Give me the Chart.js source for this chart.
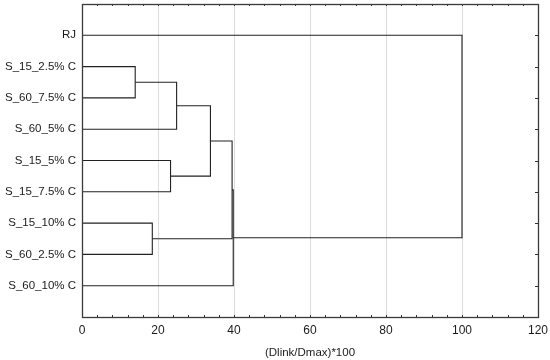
<!DOCTYPE html>
<html>
<head>
<meta charset="utf-8">
<script src="https://cdn.jsdelivr.net/npm/chart.js@4"></script>
<style>
html,body{margin:0;padding:0;background:#fff;}
#wrap{width:550px;height:360px;}
</style>
</head>
<body>
<div id="wrap"><canvas id="c" width="550" height="360"></canvas></div>
<script>
// Leaves (top to bottom)
const leafLabels = ['RJ','S_15_2.5% C','S_60_7.5% C','S_60_5% C','S_15_5% C','S_15_7.5% C','S_15_10% C','S_60_2.5% C','S_60_10% C'];
// Linkage: node ids 0..8 are leaves, 9+ are merged clusters in order
const mergeLeft   = [1, 9, 4, 10, 6, 12, 14, 0];
const mergeRight  = [2, 3, 5, 11, 7, 13, 8, 15];
const mergeHeight = [14.0, 24.9, 23.3, 33.8, 18.5, 39.5, 39.8, 100];
const xTicks = [0, 20, 40, 60, 80, 100, 120];
const xTitle = '(Dlink/Dmax)*100';

const nodeY = leafLabels.map((_, i) => i + 1);
const nodeH = leafLabels.map(() => 0);
const datasets = [];
mergeLeft.forEach((l, k) => {
  const r = mergeRight[k], h = mergeHeight[k];
  datasets.push({
    data: [{x: nodeH[l], y: nodeY[l]}, {x: h, y: nodeY[l]}, {x: h, y: nodeY[r]}, {x: nodeH[r], y: nodeY[r]}],
    showLine: true, borderColor: '#222', borderWidth: 1.1, pointRadius: 0, tension: 0, fill: false
  });
  nodeY.push((nodeY[l] + nodeY[r]) / 2);
  nodeH.push(h);
});

const FONT = 'Liberation Sans, Arial, sans-serif';

const decor = {
  id: 'decor',
  afterDraw(chart) {
    const ctx = chart.ctx, a = chart.chartArea, xs = chart.scales.x, ys = chart.scales.y;
    ctx.save();
    ctx.strokeStyle = '#333';
    ctx.lineWidth = 1;
    for (let v = 0; v <= 120; v += 4) {
      const px = Math.round(xs.getPixelForValue(v)) + 0.5;
      const len = 2;
      ctx.beginPath();
      ctx.moveTo(px, a.bottom); ctx.lineTo(px, a.bottom - len);
      ctx.moveTo(px, a.top); ctx.lineTo(px, a.top + len);
      ctx.stroke();
    }
    leafLabels.forEach((_, i) => {
      const py = Math.round(ys.getPixelForValue(i + 1)) + 0.5;
      ctx.beginPath();
      ctx.moveTo(a.right, py); ctx.lineTo(a.right - 3, py);
      ctx.stroke();
    });
    ctx.strokeStyle = '#3a3a3a';
    ctx.lineWidth = 1.3;
    ctx.strokeRect(Math.round(a.left) + 0.5, Math.round(a.top) + 0.5, Math.round(a.right - a.left), Math.round(a.bottom - a.top));
    ctx.restore();
  }
};

new Chart(document.getElementById('c'), {
  type: 'scatter',
  data: { datasets },
  plugins: [decor],
  options: {
    responsive: false,
    animation: false,
    devicePixelRatio: 1,
    layout: { padding: { top: 4, right: 12, left: 0, bottom: 0 } },
    plugins: { legend: { display: false }, tooltip: { enabled: false }, title: { display: false } },
    scales: {
      x: {
        type: 'linear', min: 0, max: 120,
        afterBuildTicks(s) { s.ticks = xTicks.map(v => ({value: v})); },
        afterFit(s) { s.height = 43; s.paddingLeft = 0; s.paddingRight = 0; },
        grid: {
          drawTicks: false,
          color: c => (c.tick && (c.tick.value === 0 || c.tick.value === 120)) ? 'rgba(0,0,0,0)' : '#dcdcdc',
          lineWidth: 1
        },
        border: { display: false },
        ticks: { color: '#1a1a1a', font: { family: FONT, size: 12 }, padding: 6, maxRotation: 0 },
        title: { display: true, text: xTitle, color: '#1a1a1a', font: { family: FONT, size: 11.5 }, padding: { top: 3, bottom: 0 } }
      },
      y: {
        type: 'linear', min: 0, max: 10, reverse: true,
        afterBuildTicks(s) { s.ticks = leafLabels.map((_, i) => ({value: i + 1})); },
        afterFit(s) { s.width = 82; s.paddingTop = 0; s.paddingBottom = 0; },
        grid: { display: false, drawTicks: false },
        border: { display: false },
        ticks: {
          color: '#1a1a1a', font: { family: FONT, size: 11.5 }, padding: 6,
          callback: v => leafLabels[v - 1]
        }
      }
    }
  }
});
</script>
</body>
</html>
